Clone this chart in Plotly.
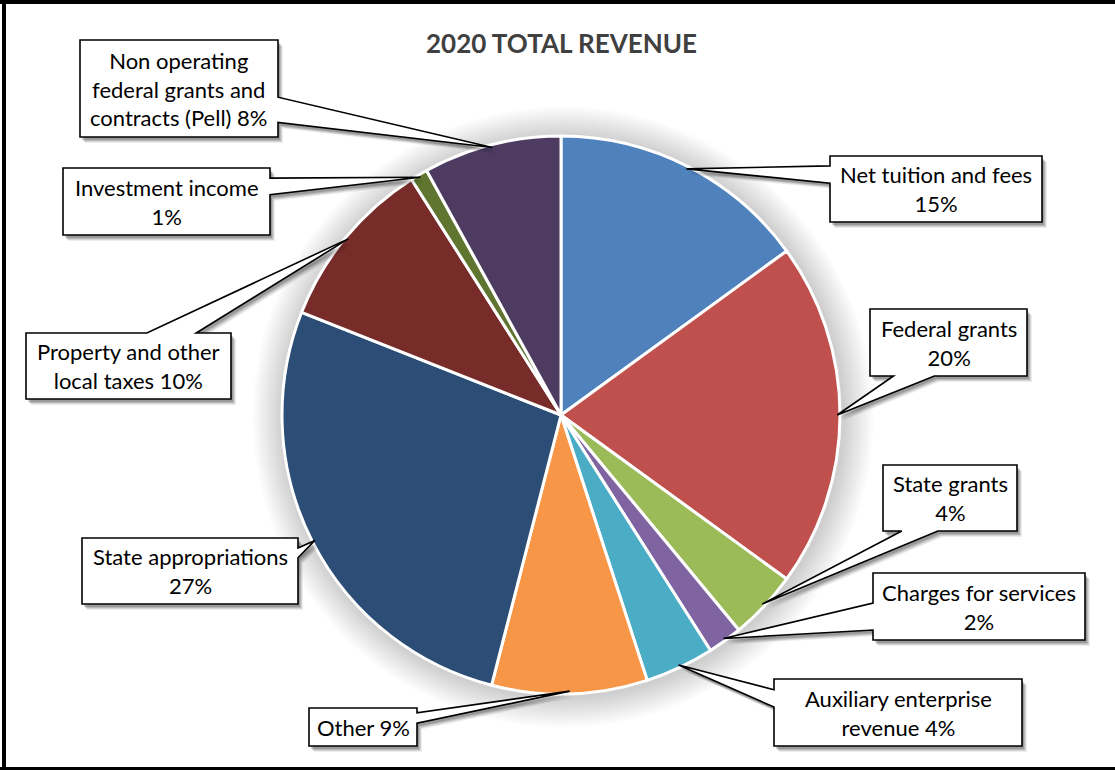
import math
import plotly.graph_objects as go

# ---- data ----
categories = [
    "Net tuition and fees",
    "Federal grants",
    "State grants",
    "Charges for services",
    "Auxiliary enterprise revenue",
    "Other",
    "State appropriations",
    "Property and other local taxes",
    "Investment income",
    "Non operating federal grants and contracts (Pell)",
]
values = [15, 20, 4, 2, 4, 9, 27, 10, 1, 8]
label_text = [
    "Net tuition and fees<br>15%",
    "Federal grants<br>20%",
    "State grants<br>4%",
    "Charges for services<br>2%",
    "Auxiliary enterprise<br>revenue 4%",
    "Other 9%",
    "State appropriations<br>27%",
    "Property and other<br>local taxes 10%",
    "Investment income<br>1%",
    "Non operating<br>federal grants and<br>contracts (Pell) 8%",
]
colors = ["#4F81BD", "#C0504D", "#9BBB59", "#8064A2", "#4BACC6",
          "#F79646", "#2C4D75", "#772C2A", "#5F7530", "#4D3B62"]

# ---- layout (pixel space of a 1115 x 770 canvas) ----
W, H = 1115, 770
CX, CY, R = 561, 415, 279
FONT = "Lato"

# callout boxes: (x0, y0, x1, y1), side the pointer leaves from, base span along that side
callouts = [
    ((830, 156, 1042, 222), "left", 0.15, 0.41),
    ((870, 309, 1027, 376), "bottom", 0.15, 0.41),
    ((883, 465, 1017, 531), "bottom", 0.14, 0.41),
    ((873, 573, 1085, 640), "left", 0.45, 0.85),
    ((774, 679, 1022, 746), "left", 0.16, 0.42),
    ((309, 708, 417, 746), "right", 0.13, 0.40),
    ((82, 538, 298, 604), "right", 0.15, 0.30),
    ((26, 333, 231, 399), "top", 0.59, 0.83),
    ((63, 168, 270, 235), "right", 0.15, 0.40),
    ((80, 40, 278, 137), "right", 0.59, 0.85),
]

fig = go.Figure()

fig.add_trace(go.Pie(
    labels=categories,
    values=values,
    sort=False,
    direction="clockwise",
    rotation=0,
    marker=dict(colors=colors, line=dict(color="white", width=3)),
    textinfo="none",
    hoverinfo="label+percent",
    showlegend=False,
    domain=dict(x=[(CX - R) / W, (CX + R) / W],
                y=[1 - (CY + R) / H, 1 - (CY - R) / H]),
))

shapes = []

# soft halo behind the pie
for k in range(16, 0, -1):
    rr = R + 1 + 1.9 * k
    shapes.append(dict(type="circle", xref="x", yref="y", layer="below",
                       x0=CX + 2 - rr, x1=CX + 2 + rr, y0=CY + 2 - rr, y1=CY + 2 + rr,
                       fillcolor="rgba(0,0,0,0.013)", line=dict(width=0)))

total = float(sum(values))


def callout_points(box, side, f0, f1, tip):
    x0, y0, x1, y1 = box
    w, h = x1 - x0, y1 - y0
    pts = [(x0, y0)]
    if side == "top":
        pts += [(x0 + f0 * w, y0), tip, (x0 + f1 * w, y0)]
    pts.append((x1, y0))
    if side == "right":
        pts += [(x1, y0 + f0 * h), tip, (x1, y0 + f1 * h)]
    pts.append((x1, y1))
    if side == "bottom":
        pts += [(x0 + f1 * w, y1), tip, (x0 + f0 * w, y1)]
    pts.append((x0, y1))
    if side == "left":
        pts += [(x0, y0 + f1 * h), tip, (x0, y0 + f0 * h)]
    return pts


def to_path(pts, dx=0.0, dy=0.0):
    return "M " + " L ".join(f"{x + dx:.1f},{y + dy:.1f}" for x, y in pts) + " Z"


annotations = []
cum = 0.0
for v, txt, (box, side, f0, f1) in zip(values, label_text, callouts):
    mid = 2 * math.pi * (cum + v / 2.0) / total
    cum += v
    tip = (CX + R * 0.99 * math.sin(mid), CY - R * 0.99 * math.cos(mid))
    pts = callout_points(box, side, f0, f1, tip)
    # drop shadow
    for dx, dy, a in [(5, 6, 0.07), (4, 5, 0.10), (3, 4, 0.13), (2, 3, 0.16)]:
        shapes.append(dict(type="path", xref="x", yref="y", path=to_path(pts, dx, dy),
                           fillcolor=f"rgba(0,0,0,{a})", line=dict(width=0)))
    shapes.append(dict(type="path", xref="x", yref="y", path=to_path(pts),
                       fillcolor="white", line=dict(color="black", width=1.6)))
    annotations.append(dict(
        x=(box[0] + box[2]) / 2, y=(box[1] + box[3]) / 2, xref="x", yref="y",
        text=txt, showarrow=False, align="center",
        font=dict(family=FONT, size=22, color="black"),
    ))

annotations.append(dict(
    x=561, y=43, xref="x", yref="y", text="<b>2020 TOTAL REVENUE</b>",
    showarrow=False, font=dict(family=FONT, size=26, color="#404040"),
))

# outer frame (top, left, bottom)
shapes += [
    dict(type="rect", xref="x", yref="y", x0=0, x1=W, y0=0, y1=4,
         fillcolor="black", line=dict(width=0)),
    dict(type="rect", xref="x", yref="y", x0=2, x1=6, y0=0, y1=H,
         fillcolor="black", line=dict(width=0)),
    dict(type="rect", xref="x", yref="y", x0=0, x1=W, y0=767, y1=H,
         fillcolor="black", line=dict(width=0)),
]

fig.update_layout(
    width=W, height=H,
    margin=dict(l=0, r=0, t=0, b=0),
    paper_bgcolor="white", plot_bgcolor="rgba(0,0,0,0)",
    xaxis=dict(range=[0, W], visible=False, fixedrange=True, domain=[0, 1]),
    yaxis=dict(range=[H, 0], visible=False, fixedrange=True, domain=[0, 1]),
    shapes=shapes, annotations=annotations,
    font=dict(family=FONT),
)

fig.write_html("out.html")
